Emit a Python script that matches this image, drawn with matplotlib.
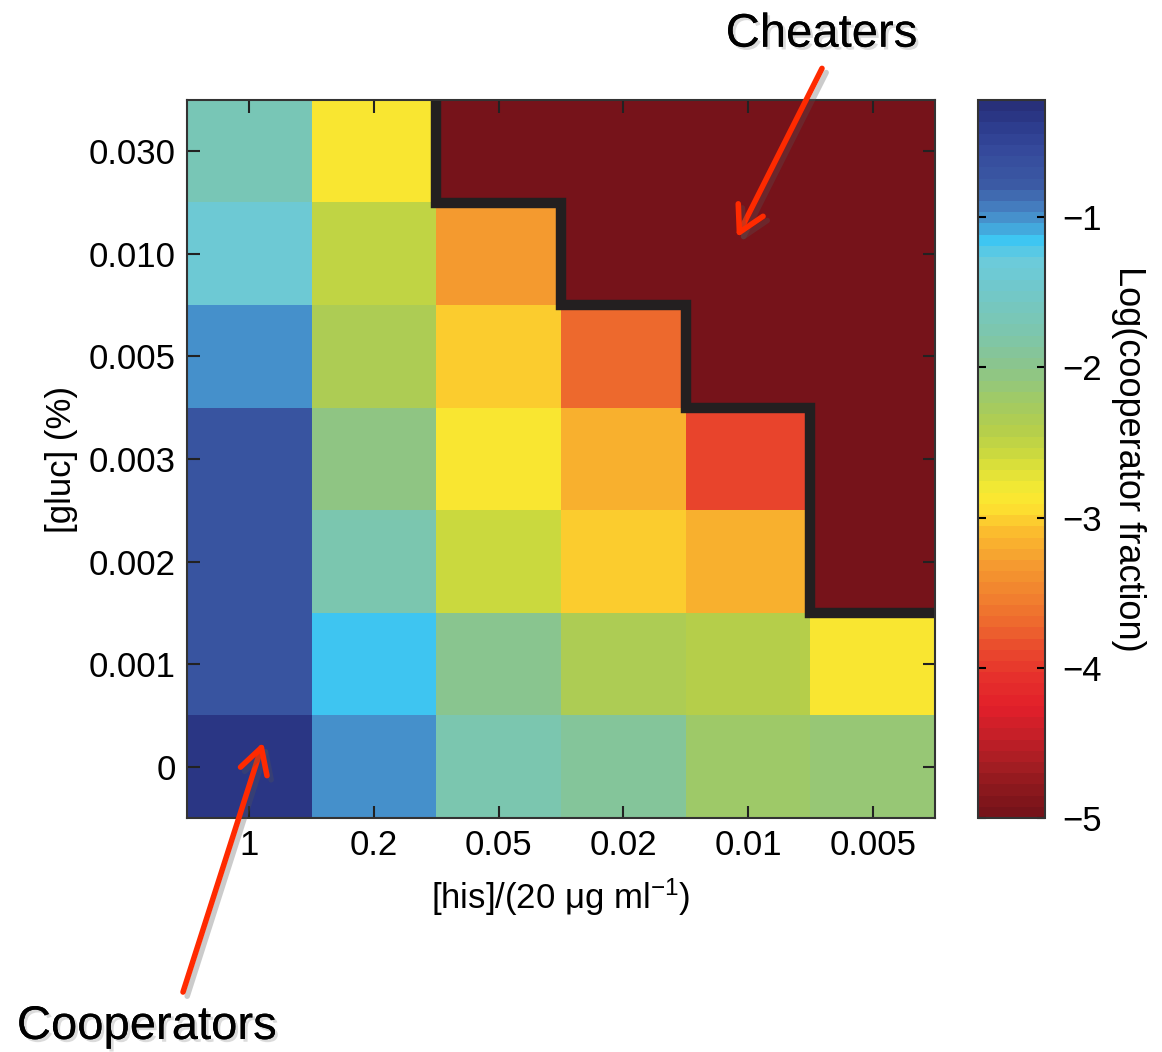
import matplotlib
matplotlib.use("Agg")
import matplotlib.pyplot as plt
import matplotlib.patheffects as pe
import numpy as np
from matplotlib.colors import LinearSegmentedColormap, ListedColormap

plt.rcParams['font.family'] = ['Liberation Sans', 'DejaVu Sans']
plt.rcParams['mathtext.default'] = 'regular'

# histidine (columns) and glucose (rows, top to bottom)
his_labels = ['1', '0.2', '0.05', '0.02', '0.01', '0.005']
gluc_labels = ['0.030', '0.010', '0.005', '0.003', '0.002', '0.001', '0']

# log10 cooperator fraction, rows follow gluc_labels
log_frac = np.array([
    [-1.65, -2.90, -5.00, -5.00, -5.00, -5.00],
    [-1.35, -2.50, -3.35, -5.00, -5.00, -5.00],
    [-1.00, -2.35, -3.00, -3.70, -5.00, -5.00],
    [-0.72, -2.05, -2.85, -3.15, -3.92, -5.00],
    [-0.72, -1.75, -2.55, -3.00, -3.15, -5.00],
    [-0.72, -1.15, -2.00, -2.35, -2.45, -2.88],
    [-0.30, -1.00, -1.75, -1.90, -2.20, -2.10],
])

# cheater / cooperator boundary (cell edges)
edge_x = [1.5, 1.5, 2.5, 2.5, 3.5, 3.5, 4.5, 4.5, 5.5]
edge_y = [-0.5, 0.5, 0.5, 1.5, 1.5, 2.5, 2.5, 4.5, 4.5]

vmin, vmax = -5.0, -0.22

# colour anchors (value, colour)
anchors = [
    (-5.00, '#76131a'), (-4.85, '#8a181d'), (-4.70, '#a11d22'),
    (-4.50, '#c31f28'), (-4.30, '#e21f2a'), (-4.10, '#e6302c'),
    (-3.90, '#ea4b2d'), (-3.70, '#ee6b2e'), (-3.50, '#f2852f'),
    (-3.30, '#f59e30'), (-3.10, '#fbbd2e'), (-2.95, '#fde030'),
    (-2.85, '#f8ea32'), (-2.60, '#d0dc3c'), (-2.40, '#b4ce4c'),
    (-2.20, '#a0ca66'), (-2.00, '#8cc58a'), (-1.75, '#7cc6ae'),
    (-1.45, '#70c8cc'), (-1.25, '#6ccbdc'), (-1.12, '#3ec6f2'),
    (-1.02, '#45a0d6'), (-0.92, '#4682c2'), (-0.75, '#3b5aa4'),
    (-0.50, '#34489a'), (-0.35, '#2c3b8c'), (-0.22, '#28307a'),
]
pos = [(v - vmin) / (vmax - vmin) for v, _ in anchors]
smooth = LinearSegmentedColormap.from_list('coop', list(zip(pos, [c for _, c in anchors])))
cmap = ListedColormap(smooth(np.linspace(0, 1, 64)))

fig = plt.figure(figsize=(11.62, 10.52), dpi=100)
ax = fig.add_axes([0.161, 0.2224, 0.6437, 0.6825])
cax = fig.add_axes([0.8417, 0.2224, 0.0577, 0.6825])

im = ax.imshow(log_frac, cmap=cmap, vmin=vmin, vmax=vmax, aspect='auto',
               interpolation='nearest')
ax.plot(edge_x, edge_y, color='#231f20', lw=7.5, solid_joinstyle='miter',
        solid_capstyle='butt', clip_on=True)
ax.set_xlim(-0.5, 5.5)
ax.set_ylim(6.5, -0.5)

ax.set_xticks(range(len(his_labels)))
ax.set_xticklabels(his_labels)
ax.set_yticks(range(len(gluc_labels)))
ax.set_yticklabels(gluc_labels)
ax.tick_params(direction='in', length=9, width=1.5, color='#222222',
               top=True, right=True, labelsize=25, pad=8)
ax.set_xlabel('[his]/(20 \u03bcg ml$^{-1}$)', fontsize=25, labelpad=10)
ax.set_ylabel('[gluc] (%)', fontsize=25, labelpad=8)
for s in ax.spines.values():
    s.set_color('#333333')
    s.set_linewidth(1.5)

cb = fig.colorbar(im, cax=cax)
cb.set_ticks([-1, -2, -3, -4, -5])
cax.tick_params(direction='in', length=6, width=1.5, left=True, right=True,
                labelsize=25, pad=12)
cb.outline.set_edgecolor('#333333')
cb.outline.set_linewidth(1.5)
cb.set_label('Log(cooperator fraction)', fontsize=26, rotation=270, labelpad=32)

shadow = [pe.withSimplePatchShadow(offset=(2, -2), shadow_rgbFace='#999999', alpha=0.35),
          pe.Normal()]
arrow = dict(arrowstyle='->,head_length=0.45,head_width=0.25', color='#ff2a00',
             lw=4, mutation_scale=40, shrinkA=0, shrinkB=0,
             path_effects=[pe.SimpleLineShadow(offset=(3, -3), shadow_color='#555555', alpha=0.3),
                           pe.Normal()])

fig.text(0.707, 0.967, 'Cheaters', fontsize=34, ha='center', va='center',
         path_effects=shadow)
fig.text(0.1265, 0.0238, 'Cooperators', fontsize=34, ha='center', va='center',
         path_effects=shadow)
ax.annotate('', xy=(3.91, 0.84), xytext=(0.7074, 0.935),
            textcoords='figure fraction', arrowprops=arrow)
ax.annotate('', xy=(0.11, 5.76), xytext=(0.1575, 0.057),
            textcoords='figure fraction', arrowprops=arrow, annotation_clip=False)

fig.savefig('out.png', dpi=100)
